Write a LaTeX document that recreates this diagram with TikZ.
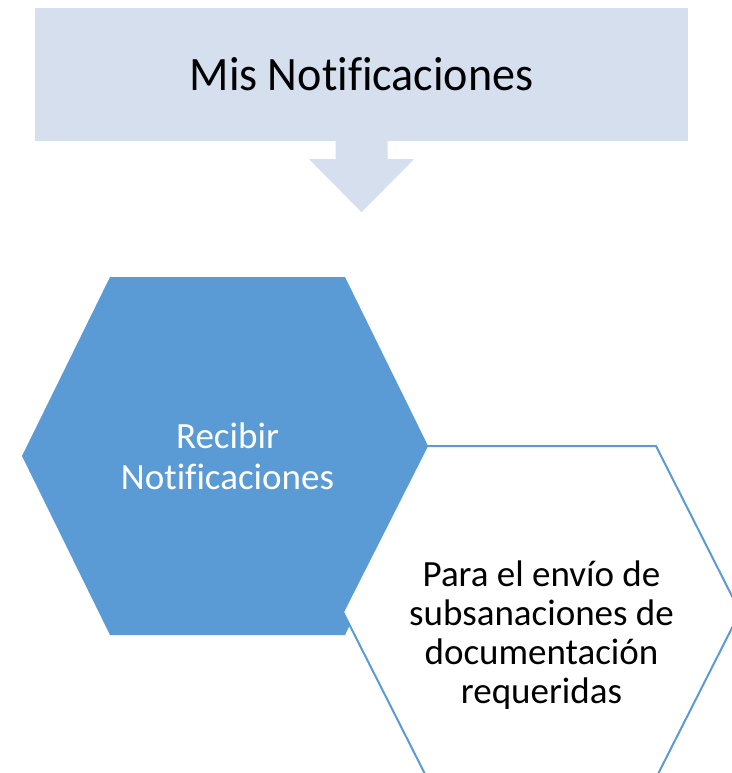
\documentclass[tikz,border=0pt]{standalone}
\usepackage{fontspec}
\setmainfont{Carlito}[Ligatures=NoCommon]
\newfontfamily\bannerfont{Carlito}[Ligatures=NoCommon, FakeStretch=0.96]
\usepackage{tikz}
\usetikzlibrary{positioning}

\definecolor{hexblue}{RGB}{91,155,213}
\definecolor{bannerfill}{RGB}{213,223,238}

\begin{document}
\begin{tikzpicture}[
			x=1pt, y=-1pt,
			banner/.style = {fill=bannerfill, minimum width=653pt, minimum height=133pt, inner sep=0pt, font=\bannerfont\fontsize{48}{52}\selectfont},
			hexbox/.style = {inner sep=0pt, outer sep=0pt},
			lbl/.style = {align=center, inner sep=0pt}
		]
		\useasboundingbox (0,0) rectangle (731,773);
		\node[banner] (mis) at (361.5,74.5) {Mis Notificaciones};
		% Arrow.
		\fill[bannerfill] ([xshift=-26pt,yshift=1pt]mis.south) -- ++(0,19) -- ++(-26.5,0)
			-- ++(52.5,53) -- ++(52.5,-53) -- ++(-26.5,0) -- ++(0,-19) -- cycle;
		% Hexagons.
		\node[hexbox, minimum width=411pt, minimum height=358pt] (rec) at (227.5,456) {};
		\node[hexbox, minimum width=397pt, minimum height=332pt] (env) at (541.5,612) {};
		
		\fill[hexblue] (rec.west) -- ([xshift=88pt]rec.north west) -- ([xshift=-88pt]rec.north east)
			-- (rec.east) -- ([xshift=-88pt]rec.south east) -- ([xshift=88pt]rec.south west) -- cycle;
		\filldraw[fill=white, draw=hexblue, line width=2pt] (env.west) -- ([xshift=84pt]env.north west)
			-- ([xshift=-84pt]env.north east) -- (env.east) -- ([xshift=-84pt]env.south east)
			-- ([xshift=84pt]env.south west) -- cycle;
		% Labels.
		\node[lbl, text=white, font=\fontsize{37}{41}\selectfont] (rectxt) at (rec) {Recibir\\Notificaciones};
		\node[lbl, font=\fontsize{37}{39}\selectfont] (envtxt) at ([yshift=-23pt]env.center) {Para el envío de\\subsanaciones de\\documentación\\requeridas};
	\end{tikzpicture}
\end{document}
